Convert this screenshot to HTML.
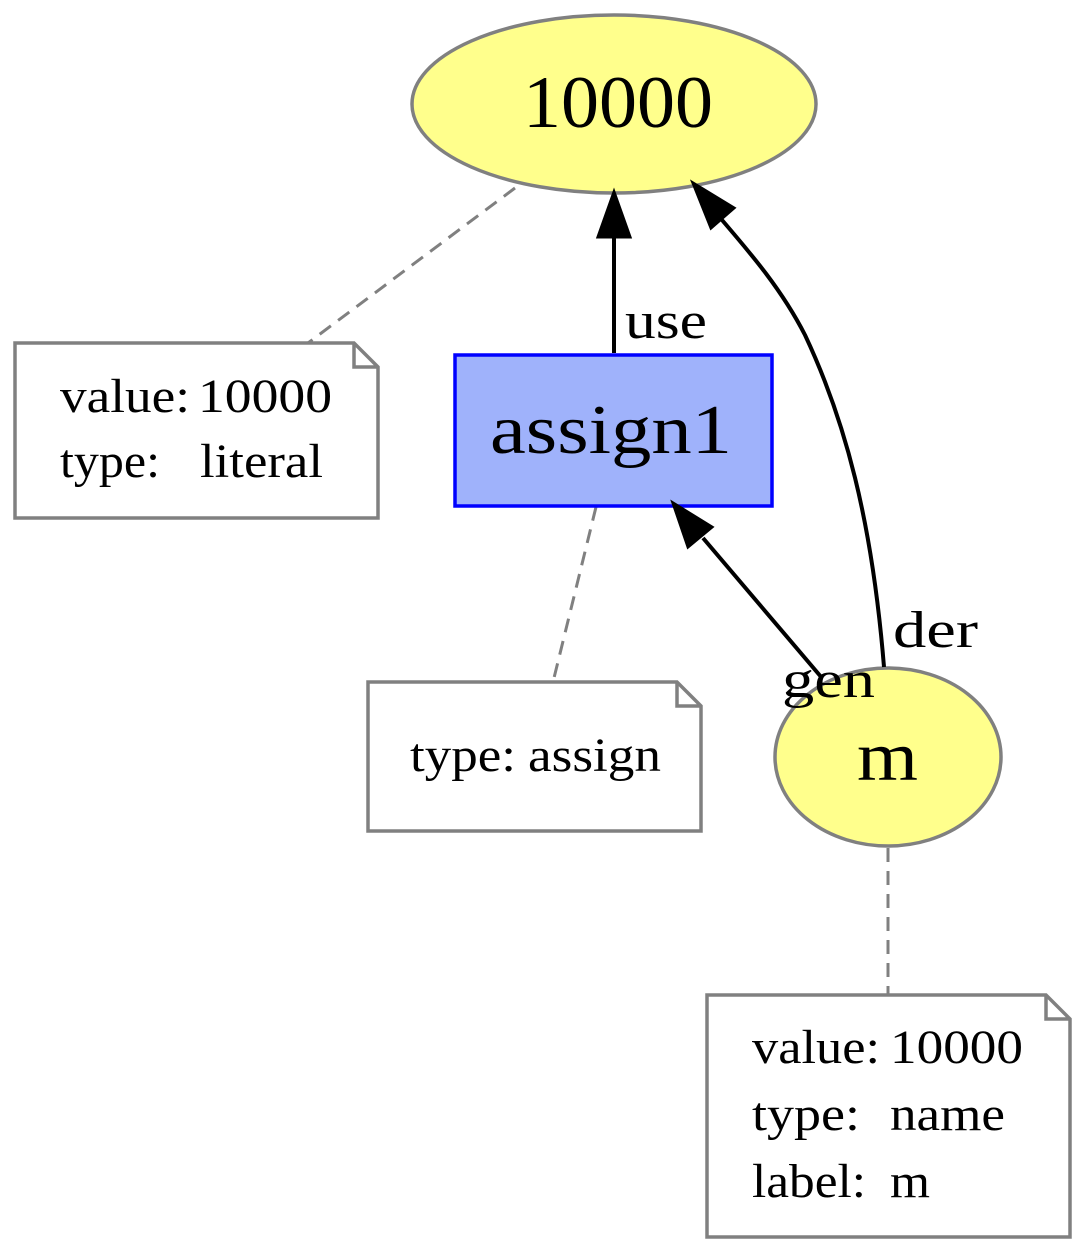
<!DOCTYPE html>
<html><head><meta charset="utf-8"><style>html,body{margin:0;padding:0;background:#fff}svg{display:block}</style></head>
<body>
<svg width="1087" height="1254" viewBox="0 0 1087 1254" xmlns="http://www.w3.org/2000/svg" font-family="Liberation Serif, serif">
<g stroke="#808080" stroke-width="3" stroke-dasharray="14,9" fill="none">
<line x1="515" y1="188" x2="308" y2="343"/>
<line x1="596" y1="507" x2="553" y2="682"/>
<line x1="888" y1="848" x2="888" y2="995"/>
</g>
<ellipse cx="614" cy="104" rx="202" ry="89" fill="#ffff8c" stroke="#808080" stroke-width="3.5"/>
<text x="523" y="127" font-size="74" textLength="190" lengthAdjust="spacingAndGlyphs">10000</text>
<path d="M15,343 H354 L378,367 V518 H15 Z M354,343 V367 H378" fill="#fff" stroke="#808080" stroke-width="3.5"/>
<text x="60" y="412" font-size="48" textLength="130" lengthAdjust="spacingAndGlyphs">value:</text><text x="198" y="412" font-size="48" textLength="134" lengthAdjust="spacingAndGlyphs">10000</text>
<text x="60" y="477" font-size="48" textLength="100" lengthAdjust="spacingAndGlyphs">type:</text><text x="200" y="477" font-size="48" textLength="123" lengthAdjust="spacingAndGlyphs">literal</text>
<rect x="455" y="355" width="317" height="151" fill="#9fb2fb" stroke="#0000ff" stroke-width="3.5"/>
<text x="490" y="453" font-size="70" textLength="242" lengthAdjust="spacingAndGlyphs">assign1</text>
<path d="M368,682 H677 L701,706 V831 H368 Z M677,682 V706 H701" fill="#fff" stroke="#808080" stroke-width="3.5"/>
<text x="410" y="771" font-size="48" textLength="106" lengthAdjust="spacingAndGlyphs">type:</text><text x="528" y="771" font-size="48" textLength="133" lengthAdjust="spacingAndGlyphs">assign</text>
<ellipse cx="888" cy="757" rx="113" ry="89" fill="#ffff8c" stroke="#808080" stroke-width="3.5"/>
<text x="857" y="780" font-size="70" textLength="61" lengthAdjust="spacingAndGlyphs">m</text>
<path d="M707,995 H1046 L1070,1019 V1237 H707 Z M1046,995 V1019 H1070" fill="#fff" stroke="#808080" stroke-width="3.5"/>
<text x="752" y="1063" font-size="48" textLength="128" lengthAdjust="spacingAndGlyphs">value:</text><text x="890" y="1063" font-size="48" textLength="133" lengthAdjust="spacingAndGlyphs">10000</text>
<text x="752" y="1130" font-size="48" textLength="108" lengthAdjust="spacingAndGlyphs">type:</text><text x="890" y="1130" font-size="48" textLength="115" lengthAdjust="spacingAndGlyphs">name</text>
<text x="752" y="1197" font-size="48" textLength="114" lengthAdjust="spacingAndGlyphs">label:</text><text x="890" y="1197" font-size="48" textLength="40" lengthAdjust="spacingAndGlyphs">m</text>
<g stroke="#000" stroke-width="4" fill="none">
<line x1="614" y1="353" x2="614" y2="236"/>
<line x1="822" y1="678" x2="703" y2="538"/>
<path d="M884,667 C872,520 845,420 805,335 C782,290 752,255 722,220"/>
</g>
<g fill="#000" stroke="#000" stroke-width="3">
<polygon points="614,192 598,237 630,237"/>
<polygon points="673,503 688,547 712,527"/>
<polygon points="693,183 711,228 734,208"/>
</g>
<text x="625" y="338" font-size="52" textLength="82" lengthAdjust="spacingAndGlyphs">use</text>
<text x="782" y="697" font-size="52" textLength="93" lengthAdjust="spacingAndGlyphs">gen</text>
<text x="893" y="647" font-size="52" textLength="85" lengthAdjust="spacingAndGlyphs">der</text>
</svg>
</body></html>
